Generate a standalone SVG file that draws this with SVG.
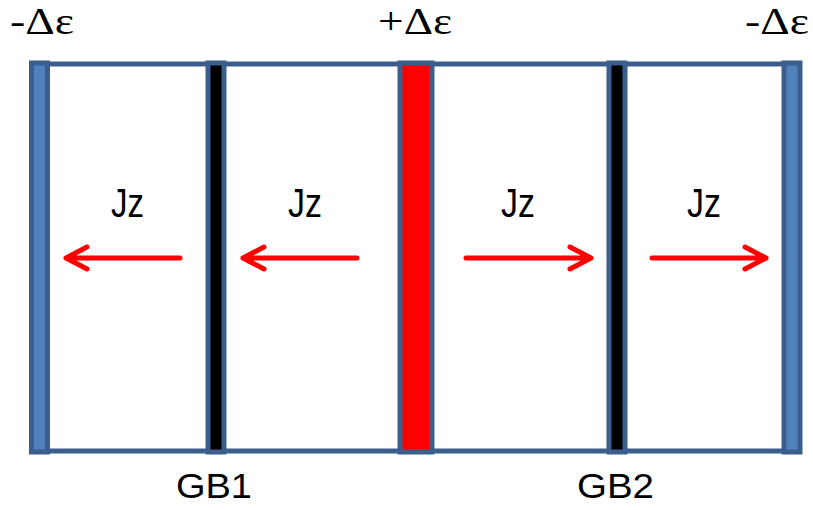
<svg xmlns="http://www.w3.org/2000/svg" width="813" height="510" viewBox="0 0 813 510">
<defs>
<style>
.frame{fill:none;stroke:#3b5e8c;stroke-width:5}
.bar{stroke:#3b5e8c;stroke-width:5}
.arrow{fill:none;stroke:#ff0000;stroke-width:5;stroke-linecap:round;stroke-linejoin:round}
.sym{font-family:"Liberation Serif","DejaVu Serif",serif;font-size:38px;fill:#000}
.lbl{font-family:"Liberation Sans","DejaVu Sans",sans-serif;font-size:40px;fill:#000}
.gb{font-family:"Liberation Sans","DejaVu Sans",sans-serif;font-size:35px;fill:#000}
</style>
</defs>
<rect width="813" height="510" fill="#ffffff"/>
<g id="frame">
<line class="frame" x1="31" y1="64" x2="802" y2="64"/>
<line class="frame" x1="31" y1="451" x2="802" y2="451"/>
</g>
<g id="edge-left"><rect class="bar" x="31.5" y="63" width="16" height="389" fill="#4f81bd"/></g>
<g id="gb1-bar"><rect class="bar" x="208" y="63" width="16" height="389" fill="#000000"/></g>
<g id="center-bar"><rect class="bar" x="400" y="63" width="32" height="389" fill="#ff0000"/></g>
<g id="gb2-bar"><rect class="bar" x="609" y="63" width="16" height="389" fill="#000000"/></g>
<g id="edge-right"><rect class="bar" x="784" y="63" width="16" height="389" fill="#4f81bd"/></g>
<g id="connectors">
<path class="arrow" d="M180,258 L66,258 M87,247 L66,258 L87,269"/>
<path class="arrow" d="M357,258 L243,258 M264,247 L243,258 L264,269"/>
<path class="arrow" d="M466,258 L591,258 M570,247 L591,258 L570,269"/>
<path class="arrow" d="M652,258 L766,258 M745,247 L766,258 L745,269"/>
</g>
<g id="labels">
<text class="sym" x="10" y="34" textLength="64" lengthAdjust="spacingAndGlyphs">-Δε</text>
<text class="sym" x="378" y="34" textLength="74" lengthAdjust="spacingAndGlyphs">+Δε</text>
<text class="sym" x="745" y="34" textLength="64" lengthAdjust="spacingAndGlyphs">-Δε</text>
<text class="lbl" x="111" y="217" textLength="33" lengthAdjust="spacingAndGlyphs">Jz</text>
<text class="lbl" x="288" y="217" textLength="34" lengthAdjust="spacingAndGlyphs">Jz</text>
<text class="lbl" x="501" y="217" textLength="34" lengthAdjust="spacingAndGlyphs">Jz</text>
<text class="lbl" x="687" y="217" textLength="34" lengthAdjust="spacingAndGlyphs">Jz</text>
<text class="gb" x="176" y="498" textLength="76" lengthAdjust="spacingAndGlyphs">GB1</text>
<text class="gb" x="577" y="498" textLength="77" lengthAdjust="spacingAndGlyphs">GB2</text>
</g>
</svg>
